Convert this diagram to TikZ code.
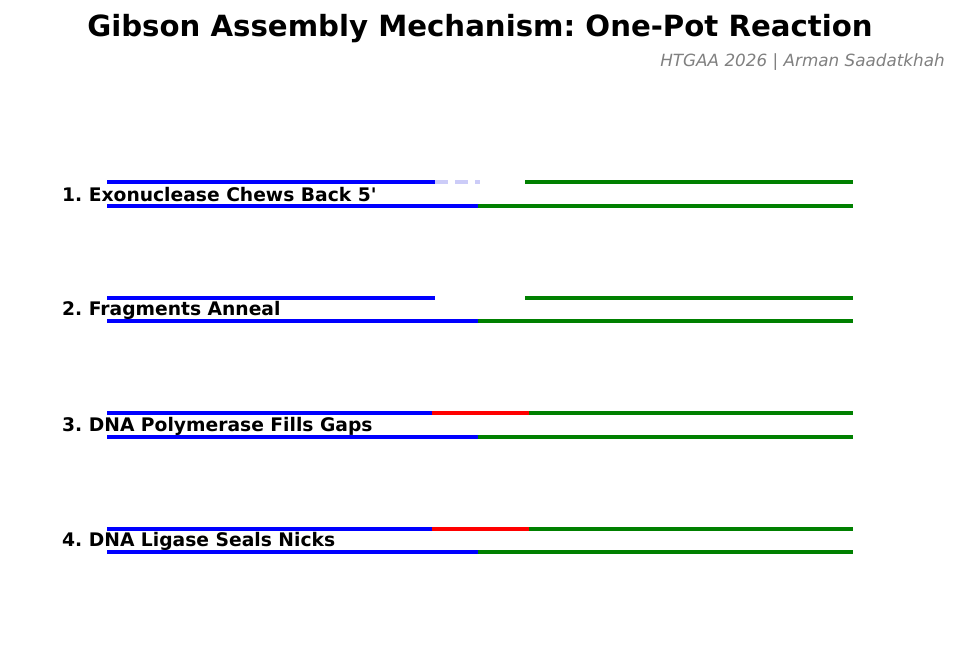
\documentclass[tikz,border=0pt]{standalone}
\usepackage{fontspec}
\setmainfont{DejaVu Sans}
\frenchspacing
\definecolor{dnablue}{HTML}{0000FF}
\definecolor{dnagreen}{HTML}{008000}
\definecolor{dnared}{HTML}{FF0000}
\definecolor{chewed}{HTML}{CCCCF8}
\begin{document}
\begin{tikzpicture}[x=1pt,y=-1pt,
    strand/.style={line width=3.6pt},
    steplabel/.style={anchor=west,inner sep=0pt,font=\fontsize{18.7}{20}\selectfont\bfseries}]
  \useasboundingbox (0,0) rectangle (959,671);
  \node[font=\fontsize{29.2}{32}\selectfont\bfseries] (title) at (480,29) {Gibson Assembly Mechanism: One-Pot Reaction};
  \node[anchor=east,inner sep=0pt,text=gray,font=\fontsize{16.8}{18}\selectfont\itshape] (credit) at (945,62) {HTGAA 2026 | Arman Saadatkhah};

  % bottom strands, the same in each step
  \foreach \n/\yb in {1/206,2/321,3/437,4/552}{
    \coordinate (b\n l) at (107,\yb);
    \coordinate (b\n m) at (478,\yb);
    \coordinate (b\n r) at (853,\yb);
    \draw[strand,dnablue] (b\n l) -- (b\n m);
    \draw[strand,dnagreen] (b\n m) -- (b\n r);
  }

  % step 1: 5' ends chewed back
  \coordinate (t1a) at (107,182);
  \coordinate (t1b) at (435,182);
  \coordinate (t1c) at (480,182);
  \coordinate (t1d) at (525,182);
  \coordinate (t1e) at (853,182);
  \draw[strand,dnablue] (t1a) -- (t1b);
  \draw[strand,chewed,dash pattern=on 13pt off 7pt] (t1b) -- (t1c);
  \draw[strand,dnagreen] (t1d) -- (t1e);

  % step 2: annealed, gap left open
  \coordinate (t2a) at (107,298);
  \coordinate (t2b) at (435,298);
  \coordinate (t2d) at (525,298);
  \coordinate (t2e) at (853,298);
  \draw[strand,dnablue] (t2a) -- (t2b);
  \draw[strand,dnagreen] (t2d) -- (t2e);

  % steps 3 and 4: gap filled in red
  \foreach \n/\yt in {3/413,4/529}{
    \coordinate (t\n a) at (107,\yt);
    \coordinate (t\n b) at (432,\yt);
    \coordinate (t\n d) at (529,\yt);
    \coordinate (t\n e) at (853,\yt);
    \draw[strand,dnablue] (t\n a) -- (t\n b);
    \draw[strand,dnared] (t\n b) -- (t\n d);
    \draw[strand,dnagreen] (t\n d) -- (t\n e);
  }

  \node[steplabel] (s1) at (62,195) {1. Exonuclease Chews Back 5\textquotesingle};
  \node[steplabel] (s2) at (62,310) {2. Fragments Anneal};
  \node[steplabel] (s3) at (62,426) {3. DNA Polymerase Fills Gaps};
  \node[steplabel] (s4) at (62,541) {4. DNA Ligase Seals Nicks};
\end{tikzpicture}
\end{document}
